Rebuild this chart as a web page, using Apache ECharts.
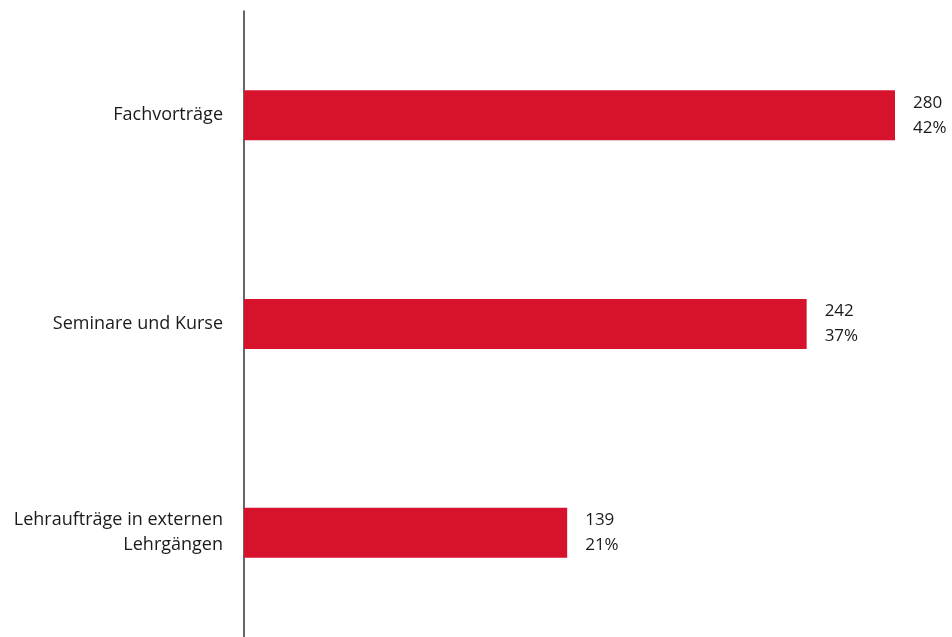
<!DOCTYPE html>
<html>
<head>
<meta charset="utf-8">
<script src="https://cdn.jsdelivr.net/npm/echarts@6/dist/echarts.min.js"></script>
<style>
  html, body { margin: 0; padding: 0; background: #fff; }
  #chart { width: 952px; height: 637px; }
</style>
</head>
<body>
<div id="chart"></div>
<script>
// Kategorien (von oben nach unten)
const categories = ['Fachvorträge', 'Seminare und Kurse', 'Lehraufträge in externen\nLehrgängen']
const counts = [280, 242, 139]
const shares = ['42%', '37%', '21%']

const chart = echarts.init(document.getElementById('chart'))

chart.setOption({
  animation: false,
  grid: {
    left: 244,
    right: 57,
    top: 11,
    height: 630
  },
  xAxis: {
    type: 'value',
    min: 0,
    max: 280,
    show: false
  },
  yAxis: {
    type: 'category',
    inverse: true,
    data: categories,
    axisLine: { show: true, lineStyle: { color: '#333', width: 1.5 } },
    axisTick: { show: false },
    axisLabel: {
      margin: 21,
      color: '#1a1a1a',
      fontFamily: 'Open Sans',
      fontSize: 18,
      lineHeight: 25,
      align: 'right'
    }
  },
  series: [
    {
      type: 'bar',
      barWidth: 50,
      data: counts,
      itemStyle: { color: '#d7122c' },
      label: {
        show: true,
        position: 'right',
        distance: 18,
        color: '#1a1a1a',
        fontFamily: 'Open Sans',
        fontSize: 17,
        lineHeight: 25,
        align: 'left',
        formatter: p => p.value + '\n' + shares[p.dataIndex]
      }
    }
  ]
})
</script>
</body>
</html>
